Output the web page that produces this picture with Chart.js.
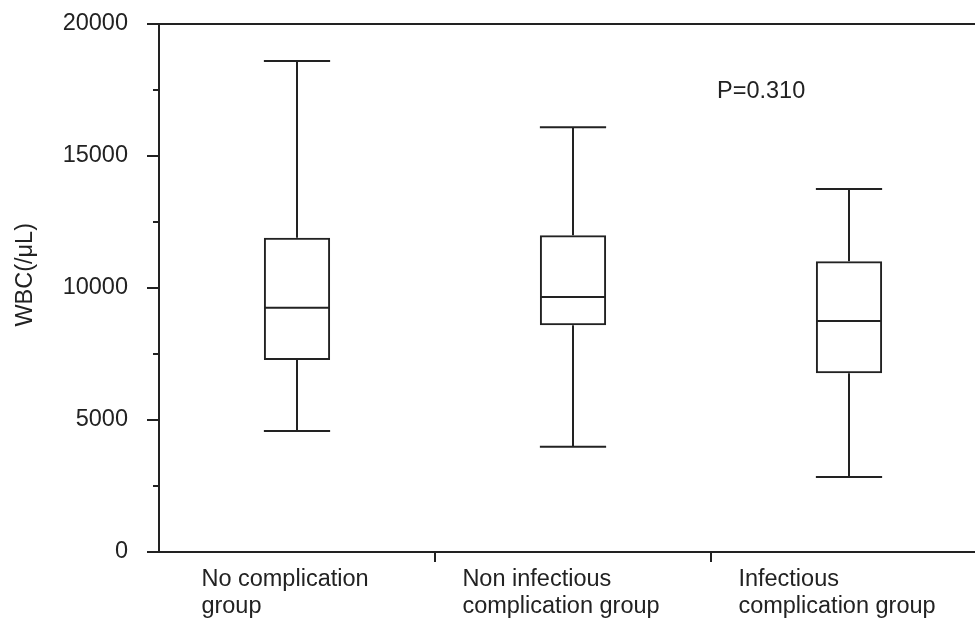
<!DOCTYPE html>
<html lang="en">
  <head>
    <meta charset="UTF-8" />
    <title>WBC box plot</title>
    <style>
      html, body { margin: 0; padding: 0; background: #fff; overflow: hidden; }
    </style>
  </head>
  <body>
    <canvas id="myChart" width="990" height="624"></canvas>
    <script src="https://cdn.jsdelivr.net/npm/chart.js"></script>
    <script>
      // values
      const groups = [["No complication", "group"], ["Non infectious", "complication group"], ["Infectious", "complication group"]];
      const whiskerMin = [4580, 3990, 2840];
      const q1 = [7270, 8590, 6770];
      const median = [9250, 9660, 8750];
      const q3 = [11900, 12000, 11010];
      const whiskerMax = [18600, 16090, 13750];
      const yMax = 20000;
      const yStep = 2500;
      const yLabelEvery = 5000;
      const yTitle = "WBC(/μL)";
      const pText = "P=0.310";

      const ink = "#222";
      const font = "23.5px 'Liberation Sans', Arial, sans-serif";

      // whiskers, medians, minor ticks and the free text
      const boxExtras = {
        id: "boxExtras",
        afterDatasetsDraw(chart) {
          const c = chart.ctx;
          const y = chart.scales.y;
          const x = chart.scales.x;
          const bars = chart.getDatasetMeta(0).data;
          c.save();
          c.strokeStyle = ink;
          c.lineWidth = 2;
          const line = (x1, y1, x2, y2) => {
            c.beginPath();
            c.moveTo(x1, y1);
            c.lineTo(x2, y2);
            c.stroke();
          };
          bars.forEach((bar, i) => {
            const half = bar.width / 2;
            const pMax = y.getPixelForValue(whiskerMax[i]);
            const pMin = y.getPixelForValue(whiskerMin[i]);
            line(bar.x, y.getPixelForValue(q3[i]), bar.x, pMax);
            line(bar.x, y.getPixelForValue(q1[i]), bar.x, pMin);
            line(bar.x - half, pMax, bar.x + half, pMax);
            line(bar.x - half, pMin, bar.x + half, pMin);
            const pMed = y.getPixelForValue(median[i]);
            line(bar.x - half + 1, pMed, bar.x + half - 1, pMed);
          });

          // minor ticks on the y axis
          y.ticks.forEach((t) => {
            if (t.value % yLabelEvery !== 0) {
              const py = Math.round(y.getPixelForValue(t.value));
              line(chart.chartArea.left - 6, py, chart.chartArea.left, py);
            }
          });

          c.fillStyle = ink;
          c.font = font;
          c.textBaseline = "alphabetic";

          // category labels, left aligned block
          groups.forEach((lines, i) => {
            const cx = x.getPixelForValue(i);
            const w = Math.max(...lines.map((l) => c.measureText(l).width));
            c.textAlign = "left";
            lines.forEach((l, k) => {
              c.fillText(l, cx - w / 2 - 12, x.top + 34 + k * 27);
            });
          });

          // p value
          c.textAlign = "left";
          c.fillText(pText, x.getPixelForValue(1.5) + 6, y.getPixelForValue(17200));

          // y title
          c.save();
          c.translate(32, y.getPixelForValue(10500));
          c.rotate(-Math.PI / 2);
          c.textAlign = "center";
          c.fillText(yTitle, 0, 0);
          c.restore();
          c.restore();
        },
      };

      new Chart(document.getElementById("myChart"), {
        type: "bar",
        data: {
          labels: groups.map((g) => g.join(" ")),
          datasets: [
            {
              data: q1.map((v, i) => [v, q3[i]]),
              backgroundColor: "rgba(0,0,0,0)",
              borderColor: ink,
              borderWidth: 2,
              borderSkipped: false,
              categoryPercentage: 1,
              barPercentage: 0.24,
            },
          ],
        },
        options: {
          responsive: false,
          animation: false,
          layout: { padding: { top: 24, right: 3, left: 0, bottom: 0 } },
          plugins: { legend: { display: false }, tooltip: { enabled: false } },
          scales: {
            x: {
              afterFit: (s) => { s.height = 72; },
              ticks: { display: false },
              grid: {
                offset: true,
                drawOnChartArea: false,
                tickLength: 10,
                lineWidth: 2,
                color: (ctx) => (ctx.type === "tick" && ctx.index > 0 ? ink : "rgba(0,0,0,0)"),
              },
              border: { color: ink, width: 2 },
            },
            y: {
              min: 0,
              max: yMax,
              afterFit: (s) => {
                s.width = 159;
                s.paddingTop = 0;
                s.paddingBottom = 0;
              },
              ticks: {
                stepSize: yStep,
                autoSkip: false,
                padding: 19,
                color: ink,
                font: { family: "'Liberation Sans', Arial, sans-serif", size: 23.5 },
                callback: (v) => (v % yLabelEvery === 0 ? String(v) : ""),
              },
              grid: {
                tickLength: 12,
                lineWidth: 2,
                color: (ctx) => (ctx.tick && ctx.tick.value === yMax ? ink : "rgba(0,0,0,0)"),
                tickColor: (ctx) => (ctx.tick && ctx.tick.value % yLabelEvery === 0 ? ink : "rgba(0,0,0,0)"),
              },
              border: { color: ink, width: 2 },
            },
          },
        },
        plugins: [boxExtras],
      });
    </script>
  </body>
</html>
